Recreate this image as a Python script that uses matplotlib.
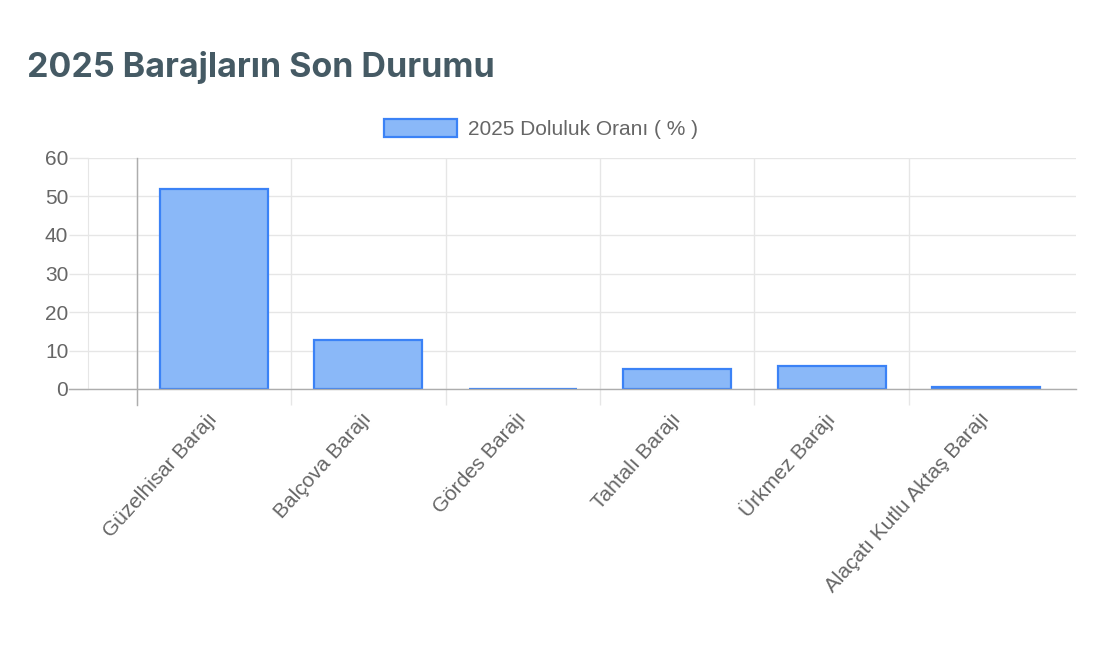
import numpy as np
import matplotlib.pyplot as plt
from matplotlib.ticker import FixedLocator

# 2025 baraj doluluk oranlari
barajlar = ['Güzelhisar Barajı', 'Balçova Barajı', 'Gördes Barajı',
            'Tahtalı Barajı', 'Ürkmez Barajı', 'Alaçatı Kutlu Aktaş Barajı']
doluluk = [52.0, 12.6, 0.1, 5.2, 6.1, 0.6]
y_ticks = [0, 10, 20, 30, 40, 50, 60]

grid_c = '#e6e6e6'
axis_c = '#adadad'
text_c = '#666666'

plt.rcParams['font.family'] = ['Liberation Sans', 'DejaVu Sans']

fig = plt.figure(figsize=(11.06, 6.46), dpi=100)
ax = fig.add_axes([88/1106, 1-389/646, 988/1106, 231/646])

x = np.arange(len(barajlar))
ax.bar(x, doluluk, width=0.70, color='#8ab8f8', edgecolor='#3b82f6',
       linewidth=1.6, label='2025 Doluluk Oranı ( % )', zorder=3)

ax.set_xlim((88-214)/154.4, (1076-214)/154.4)
ax.set_ylim(0, 60)

# y axis
ax.set_yticks(y_ticks)
ax.set_yticklabels([str(t) for t in y_ticks])
ax.tick_params(axis='y', length=13.7, width=1, color=grid_c, pad=0.5,
               labelsize=15, labelcolor=text_c)
ax.yaxis.grid(True, color=grid_c, linewidth=1, zorder=0)

# x axis: labels at centres, marks at category boundaries
ax.set_xticks(x)
ax.set_xticklabels(barajlar, rotation=48, ha='right', va='center',
                   rotation_mode='anchor')
ax.tick_params(axis='x', which='major', length=0, pad=19,
               labelsize=15, labelcolor=text_c)
bounds = x[:-1] + 0.5
ax.xaxis.set_minor_locator(FixedLocator(np.concatenate([[-0.5], bounds])))
ax.tick_params(axis='x', which='minor', length=11.5, width=1, color=grid_c)
ax.xaxis.grid(True, which='minor', color=grid_c, linewidth=1, zorder=0)
ax.plot([-0.5, -0.5], [1, -0.07], transform=ax.get_xaxis_transform(),
        color=axis_c, linewidth=1, clip_on=False, zorder=2)
ax.plot([-0.019, 1], [0, 0], transform=ax.get_yaxis_transform(),
        color=axis_c, linewidth=1, clip_on=False, zorder=4)

for s in ['top', 'right', 'bottom']:
    ax.spines[s].set_visible(False)
ax.spines['left'].set_color(grid_c)

fig.text(27/1106, 1-77/646, '2025 Barajların Son Durumu', fontsize=24.5,
         fontweight='bold', color='#455a64', family=['Inter', 'DejaVu Sans'])

fig.legend(loc='center', bbox_to_anchor=(541/1106, 1-129/646), frameon=False,
           fontsize=15, labelcolor=text_c, handlelength=3.5, handleheight=1.0,
           handletextpad=0.53)

fig.savefig('out.png', dpi=100, facecolor='white')
